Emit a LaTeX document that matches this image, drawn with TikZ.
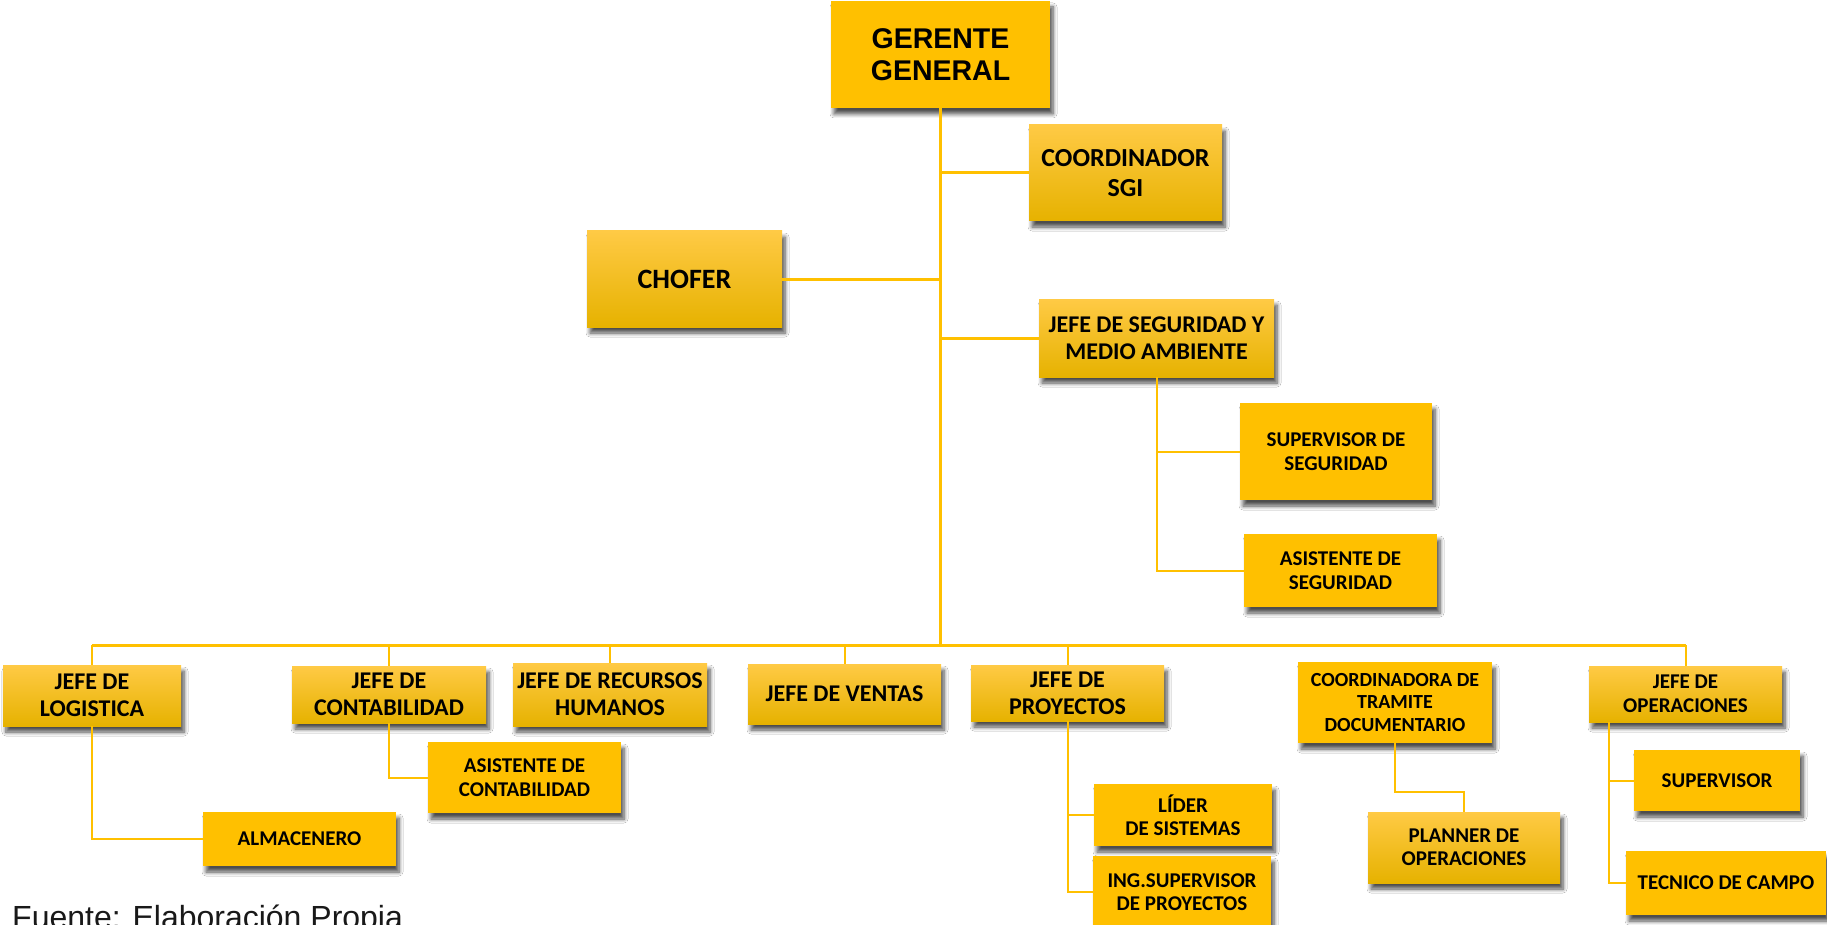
\documentclass[tikz,border=0pt]{standalone}
\usepackage{fontspec}
\setmainfont{Carlito}
\newfontfamily\arialf{Liberation Sans}
\usetikzlibrary{shadows.blur}
\definecolor{gold}{HTML}{FFC000}
\definecolor{gtop}{HTML}{FFCA45}
\definecolor{gbot}{HTML}{E6B200}
\definecolor{lnc}{HTML}{FFC000}
\tikzset{
  sz/.style 2 args={minimum width=#1, minimum height=#2},
  boxbase/.style={inner sep=0pt, align=center, text=black,
    blur shadow={shadow xshift=3pt, shadow yshift=-6pt, shadow blur steps=6, shadow blur radius=4pt, shadow opacity=70}},
  flatbox/.style={boxbase, fill=gold},
  gradbox/.style={boxbase, top color=gtop, middle color=gold, bottom color=gbot},
  fbig/.style={font=\bfseries\fontsize{26}{30}\selectfont},
  fmid/.style={font=\bfseries\fontsize{24}{27}\selectfont},
  fsml/.style={font=\bfseries\fontsize{21}{23.5}\selectfont},
  fsm2/.style={font=\bfseries\fontsize{20}{22.5}\selectfont},
  mainln/.style={draw=lnc, line width=3pt},
  subln/.style={draw=lnc, line width=2pt},
}
\begin{document}
\begin{tikzpicture}[x=1pt,y=-1pt]
\useasboundingbox (0,0) rectangle (1827,925);
\clip (0,0) rectangle (1827,925);
\fill[white] (0,0) rectangle (1827,925);

\coordinate (busy) at (0,645);
\coordinate (opx) at (1609,0);
\coordinate (ctdy) at (0,792);

\node[flatbox, sz={219pt}{107pt}, font=\arialf\bfseries\fontsize{28.5}{32}\selectfont] (gg) at (940.5,54.5) {GERENTE\\GENERAL};
\node[gradbox, sz={193pt}{96pt}, fbig] (coord) at (1125.5,173) {COORDINADOR\\SGI};
\node[gradbox, sz={195pt}{96pt}, font=\bfseries\fontsize{28}{32}\selectfont] (chofer) at (684.5,279) {CHOFER};
\node[gradbox, sz={235pt}{78pt}, fmid] (jseg) at (1156.5,338) {JEFE DE SEGURIDAD Y\\MEDIO AMBIENTE};
\node[flatbox, sz={192pt}{97pt}, fsml] (supseg) at (1336,451.5) {SUPERVISOR DE\\SEGURIDAD};
\node[flatbox, sz={193pt}{73pt}, fsml] (asiseg) at (1340.5,570.5) {ASISTENTE DE\\SEGURIDAD};

\node[gradbox, sz={178pt}{61pt}, fmid] (jlog) at (92,695.5) {JEFE DE\\LOGISTICA};
\node[gradbox, sz={194pt}{57pt}, fmid] (jcont) at (389,694.5) {JEFE DE\\CONTABILIDAD};
\node[gradbox, sz={194pt}{63pt}, fmid] (jrrhh) at (610,694.5) {JEFE DE RECURSOS\\HUMANOS};
\node[gradbox, sz={193pt}{60pt}, fmid] (jvent) at (844.5,694) {JEFE DE VENTAS};
\node[gradbox, sz={193pt}{56pt}, fmid] (jproy) at (1067.5,693) {JEFE DE\\PROYECTOS};
\node[flatbox, sz={194pt}{81pt}, fsm2] (ctd) at (1395,702.5) {COORDINADORA DE\\TRAMITE\\DOCUMENTARIO};
\node[gradbox, sz={193pt}{56pt}, fsml] (jop) at (1685.5,694) {JEFE DE\\OPERACIONES};

\node[flatbox, sz={193pt}{54pt}, fsml] (alm) at (299.5,839) {ALMACENERO};
\node[flatbox, sz={193pt}{71pt}, fsml] (acont) at (524.5,777.5) {ASISTENTE DE\\CONTABILIDAD};
\node[flatbox, sz={178pt}{62pt}, fsml] (lider) at (1183,815) {LÍDER\\DE SISTEMAS};
\node[flatbox, sz={178pt}{72pt}, fsml] (ing) at (1182,892) {ING.SUPERVISOR\\DE PROYECTOS};
\node[gradbox, sz={192pt}{71pt}, fsml] (planner) at (1464,847.5) {PLANNER DE\\OPERACIONES};
\node[flatbox, sz={166pt}{61pt}, fsml] (sup) at (1717,780.5) {SUPERVISOR};
\node[flatbox, sz={200pt}{64pt}, fsml] (tec) at (1726,883) {TECNICO DE CAMPO};

% main trunk
\draw[mainln] (gg.south) -- (gg.south |- busy);
\draw[mainln] (gg.south |- coord.west) -- (coord.west);
\draw[mainln] (chofer.east) -- (chofer.east -| gg.south);
\draw[mainln] (gg.south |- jseg.west) -- (jseg.west);
% safety branch
\draw[subln] (jseg.south) |- (supseg.west);
\draw[subln] (jseg.south) |- (asiseg.west);
% bus
\draw[mainln] (jlog.north |- busy) -- (jop.north |- busy);
\draw[subln] (jlog.north |- busy) -- (jlog.north);
\draw[subln] (jcont.north |- busy) -- (jcont.north);
\draw[subln] (jrrhh.north |- busy) -- (jrrhh.north);
\draw[subln] (jvent.north |- busy) -- (jvent.north);
\draw[subln] (jproy.north |- busy) -- (jproy.north);
\draw[subln] (jop.north |- busy) -- (jop.north);
% sub branches
\draw[subln] (jlog.south) |- (alm.west);
\draw[subln] (jcont.south) |- (acont.west);
\draw[subln] (jproy.south) |- (lider.west);
\draw[subln] (jproy.south) |- (ing.west);
\draw[subln] (ctd.south) -- (ctd.south |- ctdy) -| (planner.north);
\draw[subln] (opx |- jop.south) |- (sup.west);
\draw[subln] (opx |- jop.south) |- (tec.west);

\node[anchor=base west, inner sep=0pt, text=black!90, font=\arialf\fontsize{32}{38}\selectfont] (fuente) at (12,928) {Fuente: Elaboración Propia};
\end{tikzpicture}
\end{document}
